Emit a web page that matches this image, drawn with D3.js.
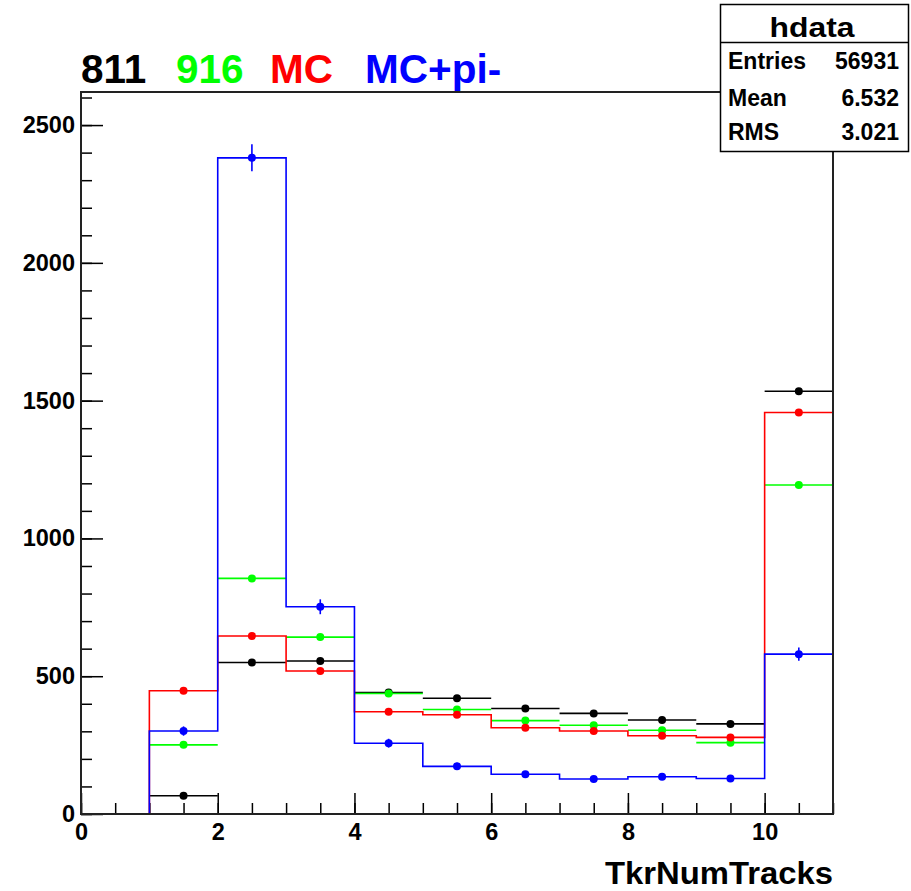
<!DOCTYPE html>
<html>
<head>
<meta charset="utf-8">
<script src="https://cdn.jsdelivr.net/npm/d3@7"></script>
<style>
  body { margin: 0; background: #fff; }
  svg { display: block; font-family: "Liberation Sans", Arial, sans-serif; font-weight: bold; }
</style>
</head>
<body>
<div id="chart"></div>
<script>
// bin edges for TkrNumTracks (11 unit bins)
const binEdges = [0, 1, 2, 3, 4, 5, 6, 7, 8, 9, 10, 11];

// bin contents
const data811 = [0, 66, 550, 555, 441, 420, 383, 365, 341, 327, 1534];
const data916 = [0, 251, 855, 642, 437, 379, 339, 322, 304, 259, 1194];
const dataMC = [0, 447, 646, 519, 371, 360, 313, 301, 284, 278, 1457];
const dataMCpi = [0, 301, 2381, 752, 257, 173, 144, 127, 135, 129, 580];
const errMCpi = [0, 17, 49, 27, 16, 13, 12, 11, 12, 11, 24];

const xTicks = [0, 2, 4, 6, 8, 10];
const yTicks = [0, 500, 1000, 1500, 2000, 2500];

const titleParts = [
    {text: "811", color: "#000000", x: 81},
    {text: "916", color: "#00ff00", x: 176},
    {text: "MC", color: "#ff0000", x: 270},
    {text: "MC+pi-", color: "#0000ff", x: 365}
];

const statsRows = [["Entries", "56931"], ["Mean", "6.532"], ["RMS", "3.021"]];

const W = 911, H = 891;
const frame = {left: 81, right: 833, top: 92, bottom: 814};

const svg = d3.select("#chart").append("svg")
    .attr("width", W)
    .attr("height", H);

const x = d3.scaleLinear().domain([0, 11]).range([frame.left, frame.right]);
const y = d3.scaleLinear().domain([0, 2620]).range([frame.bottom, frame.top]);

svg.append("clipPath").attr("id", "clip")
    .append("rect")
    .attr("x", frame.left).attr("y", frame.top)
    .attr("width", frame.right - frame.left).attr("height", frame.bottom - frame.top + 2);

// minor ticks
svg.append("g")
    .attr("transform", "translate(" + frame.left + ",0)")
    .call(d3.axisLeft(y).tickValues(d3.range(0, 2601, 100)).tickSize(-11).tickFormat(""))
    .call(g => g.select(".domain").remove())
    .call(g => g.selectAll("line").attr("stroke-width", 1.5));

svg.append("g")
    .attr("transform", "translate(0," + frame.bottom + ")")
    .call(d3.axisBottom(x).tickValues(d3.range(0, 11.01, 0.5)).tickSize(-11).tickFormat(""))
    .call(g => g.select(".domain").remove())
    .call(g => g.selectAll("line").attr("stroke-width", 1.5));

// major ticks with labels
svg.append("g")
    .attr("transform", "translate(" + frame.left + ",0)")
    .call(d3.axisLeft(y).tickValues(yTicks).tickSize(-22).tickPadding(6).tickFormat(d3.format("d")))
    .call(g => g.select(".domain").remove())
    .call(g => g.selectAll("line").attr("stroke-width", 1.5))
    .call(g => g.selectAll("text").attr("font-size", 23.5).attr("font-family", null).attr("fill", "#000"));

svg.append("g")
    .attr("transform", "translate(0," + frame.bottom + ")")
    .call(d3.axisBottom(x).tickValues(xTicks).tickSize(-21).tickPadding(9).tickFormat(d3.format("d")))
    .call(g => g.select(".domain").remove())
    .call(g => g.selectAll("line").attr("stroke-width", 1.5))
    .call(g => g.selectAll("text").attr("font-size", 23.5).attr("font-family", null).attr("fill", "#000"));

const plot = svg.append("g").attr("clip-path", "url(#clip)");

// histograms drawn as horizontal bars with markers (811, 916)
function drawBars(values, color) {
    const bins = values.map((v, i) => ({lo: binEdges[i], hi: binEdges[i + 1], v: v}))
        .filter(d => d.v > 0);
    plot.append("g").selectAll("line")
        .data(bins)
        .join("line")
        .attr("x1", d => x(d.lo))
        .attr("x2", d => x(d.hi))
        .attr("y1", d => y(d.v))
        .attr("y2", d => y(d.v))
        .attr("stroke", color)
        .attr("stroke-width", 1.6);
    plot.append("g").selectAll("circle")
        .data(bins)
        .join("circle")
        .attr("cx", d => x((d.lo + d.hi) / 2))
        .attr("cy", d => y(d.v))
        .attr("r", 4)
        .attr("fill", color);
}

// histograms drawn as steps with markers (MC, MC+pi-)
function drawSteps(values, color, errs) {
    const pts = values.map((v, i) => [binEdges[i], v]);
    pts.push([binEdges[binEdges.length - 1], values[values.length - 1]]);
    const line = d3.line()
        .x(d => x(d[0]))
        .y(d => y(d[1]))
        .curve(d3.curveStepAfter);
    plot.append("path")
        .attr("d", line(pts))
        .attr("fill", "none")
        .attr("stroke", color)
        .attr("stroke-width", 1.6);
    const bins = values.map((v, i) => ({c: (binEdges[i] + binEdges[i + 1]) / 2, v: v, e: errs ? errs[i] : 0}))
        .filter(d => d.v > 0);
    if (errs) {
        plot.append("g").selectAll("line")
            .data(bins)
            .join("line")
            .attr("x1", d => x(d.c))
            .attr("x2", d => x(d.c))
            .attr("y1", d => y(d.v - d.e))
            .attr("y2", d => y(d.v + d.e))
            .attr("stroke", color)
            .attr("stroke-width", 1.6);
    }
    plot.append("g").selectAll("circle")
        .data(bins)
        .join("circle")
        .attr("cx", d => x(d.c))
        .attr("cy", d => y(d.v))
        .attr("r", 4)
        .attr("fill", color);
}

drawBars(data811, "#000000");
drawBars(data916, "#00ff00");
drawSteps(dataMC, "#ff0000");
drawSteps(dataMCpi, "#0000ff", errMCpi);

// frame (drawn over the histograms so its right edge stays dark)
svg.append("rect")
    .attr("x", frame.left).attr("y", frame.top)
    .attr("width", frame.right - frame.left).attr("height", frame.bottom - frame.top)
    .attr("fill", "none")
    .attr("stroke", "#222")
    .attr("stroke-width", 2);
// blue underflow-side baseline stays visible on top of the frame bottom
plot.append("path")
    .attr("d", d3.line().x(d => x(d[0])).y(d => y(d[1]))([[0, 0], [1, 0]]))
    .attr("stroke", "#3a1fd0")
    .attr("stroke-width", 1.6);

// title
svg.append("g").selectAll("text")
    .data(titleParts)
    .join("text")
    .attr("x", d => d.x)
    .attr("y", 83)
    .attr("font-size", 40.5)
    .attr("fill", d => d.color)
    .text(d => d.text);

// x axis title
svg.append("text")
    .attr("x", frame.right)
    .attr("y", 884)
    .attr("text-anchor", "end")
    .attr("font-size", 32)
    .attr("textLength", 228)
    .attr("lengthAdjust", "spacingAndGlyphs")
    .text("TkrNumTracks");

// stats box
const stats = svg.append("g");
stats.append("rect")
    .attr("x", 720.5).attr("y", 4.5)
    .attr("width", 188).attr("height", 147)
    .attr("fill", "#fff")
    .attr("stroke", "#000")
    .attr("stroke-width", 1.5);
stats.append("line")
    .attr("x1", 720.5).attr("x2", 908.5)
    .attr("y1", 42.5).attr("y2", 42.5)
    .attr("stroke", "#000")
    .attr("stroke-width", 1.5);
stats.append("text")
    .attr("x", 812).attr("y", 37)
    .attr("text-anchor", "middle")
    .attr("font-size", 28)
    .attr("textLength", 85)
    .attr("lengthAdjust", "spacingAndGlyphs")
    .text("hdata");
const rowY = [69, 106, 140];
statsRows.forEach((r, i) => {
    stats.append("text")
        .attr("x", 728).attr("y", rowY[i])
        .attr("font-size", 23)
        .text(r[0]);
    stats.append("text")
        .attr("x", 899).attr("y", rowY[i])
        .attr("text-anchor", "end")
        .attr("font-size", 23)
        .text(r[1]);
});
</script>
</body>
</html>
